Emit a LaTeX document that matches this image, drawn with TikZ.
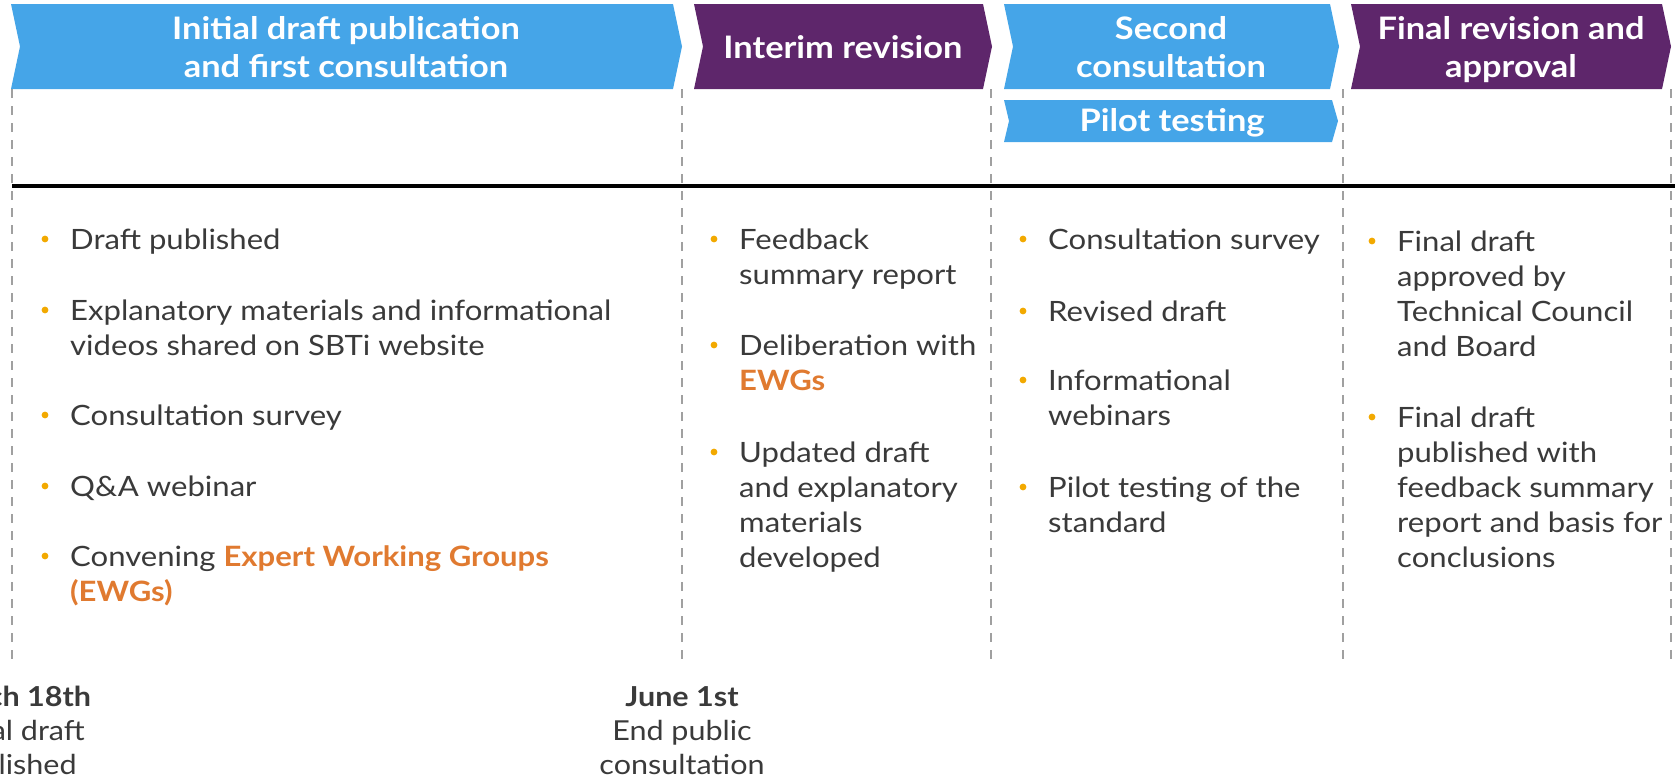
\documentclass[tikz,border=0pt]{standalone}
\usepackage{fontspec}
\setmainfont[FakeStretch=1.11]{Lato}
\usetikzlibrary{calc}
\definecolor{blueC}{HTML}{45A5E8}
\definecolor{purpC}{HTML}{5E266B}
\definecolor{oranC}{HTML}{E07A30}
\definecolor{bulC}{HTML}{F2A900}
\definecolor{txtC}{HTML}{3A3A3A}
\definecolor{dashC}{HTML}{A0A0A0}
\newcommand{\ew}[1]{\textbf{\color{oranC}#1}}
\tikzset{
  head/.style={text=white,font=\fontsize{31}{38.5}\selectfont\bfseries,align=center,inner sep=0pt,anchor=base},
  itm/.style={text=txtC,font=\fontsize{28}{35}\selectfont,anchor=base west,inner sep=0pt},
  datelbl/.style={text=txtC,font=\fontsize{27.5}{34}\selectfont,anchor=base,inner sep=0pt},
  vdash/.style={draw=dashC,line width=2pt,dash pattern=on 9pt off 8pt},
  bul/.style={fill=bulC}
}
\newcommand{\lines}[1]{\begin{tabular}[t]{@{}l@{}}#1\end{tabular}}
\newcommand{\clines}[1]{\begin{tabular}[t]{@{}c@{}}#1\end{tabular}}
\begin{document}
\begin{tikzpicture}[x=1pt,y=-1pt]
\useasboundingbox (0,0) rectangle (1675,780);
\clip (0,0) rectangle (1675,780);
% chevrons
\fill[blueC] (11,4) -- (673,4) -- (682,46.5) -- (673,89) -- (11,89) -- (20,46.5) -- cycle;
\fill[purpC] (694,4) -- (983,4) -- (992,46.5) -- (983,89) -- (694,89) -- (703,46.5) -- cycle;
\fill[blueC] (1004,4) -- (1330,4) -- (1339,46.5) -- (1330,89) -- (1004,89) -- (1013,46.5) -- cycle;
\fill[blueC] (1004,100) -- (1332,100) -- (1338,121) -- (1332,142) -- (1004,142) -- (1009,121) -- cycle;
\fill[purpC] (1351,4) -- (1662,4) -- (1671,46.5) -- (1662,89) -- (1351,89) -- (1360,46.5) -- cycle;
\node[head] (h1) at (346,39) {\clines{Initial draft publication\\and first consultation}};
\node[head] (h2) at (843,58) {Interim revision};
\node[head] (h3) at (1171,39) {\clines{Second\\consultation}};
\node[head] (h3b) at (1172,131) {Pilot testing};
\node[head] (h4) at (1511,39) {\clines{Final revision and\\approval}};
% dashed verticals
\foreach \xx/\nm in {12/a,682/b,991/c,1343/d,1671/e}{
  \coordinate (t\nm) at (\xx,89);
  \coordinate (b\nm) at (\xx,659);
  \draw[vdash] (t\nm) -- (b\nm);
}
% timeline
\coordinate (L0) at (12,186);
\coordinate (L1) at (1675,186);
\draw[black,line width=4pt] (L0) -- (L1);
% column 1
\node[itm] (c1a) at (70,249) {\lines{Draft published}};
\node[itm] (c1b) at (70,320) {\lines{Explanatory materials and informational\\videos shared on SBTi website}};
\node[itm] (c1c) at (70,425) {\lines{Consultation survey}};
\node[itm] (c1d) at (70,496) {\lines{Q\&A webinar}};
\node[itm] (c1e) at (70,566) {\lines{Convening \ew{Expert Working Groups}\\\ew{(EWGs)}}};
% column 2
\node[itm] (c2a) at (739,249) {\lines{Feedback\\summary report}};
\node[itm] (c2b) at (739,355) {\lines{Deliberation with\\\ew{EWGs}}};
\node[itm] (c2c) at (739,462) {\lines{Updated draft\\and explanatory\\materials\\developed}};
% column 3
\node[itm] (c3a) at (1048,249) {\lines{Consultation survey}};
\node[itm] (c3b) at (1048,321) {\lines{Revised draft}};
\node[itm] (c3c) at (1048,390) {\lines{Informational\\webinars}};
\node[itm] (c3d) at (1048,497) {\lines{Pilot testing of the\\standard}};
% column 4
\node[itm] (c4a) at (1397,251) {\lines{Final draft\\approved by\\Technical Council\\and Board}};
\node[itm] (c4b) at (1397,427) {\lines{Final draft\\published with\\feedback summary\\report and basis for\\conclusions}};
% bullets
\foreach \n in {c1a,c1b,c1c,c1d,c1e,c2a,c2b,c2c,c3a,c3b,c3c,c3d,c4a,c4b}{
  \fill[bul] ($(\n.base west)+(-25,-10)$) circle (3.4pt);
}
% dates
\node[datelbl] (d1) at (12,706) {\clines{\textbf{March 18th}\\Initial draft\\published}};
\node[datelbl] (d2) at (682,706) {\clines{\textbf{June 1st}\\End public\\consultation}};
\end{tikzpicture}
\end{document}
